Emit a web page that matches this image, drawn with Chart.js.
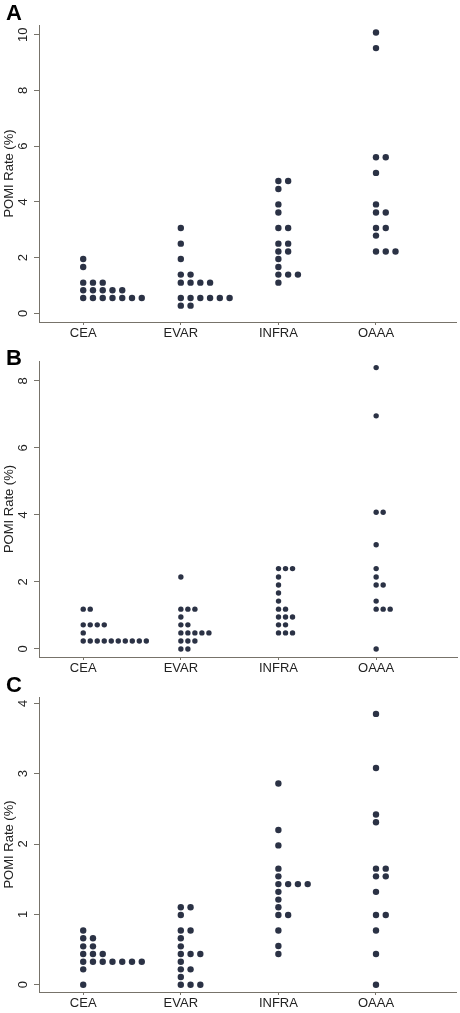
<!DOCTYPE html>
<html><head><meta charset="utf-8">
<script src="https://cdn.jsdelivr.net/npm/chart.js@4.4.1/dist/chart.umd.min.js"></script>
<style>
html,body{margin:0;padding:0;background:#fff;width:460px;height:1013px;overflow:hidden;position:relative;}
canvas{position:absolute;left:0;}
.lbl{position:absolute;left:6px;font:bold 22px "Liberation Sans",Arial,sans-serif;line-height:22px;color:#000;z-index:2;}
</style></head><body>
<canvas id="cA" width="460" height="345" style="top:0px"></canvas>
<canvas id="cB" width="460" height="345" style="top:335px"></canvas>
<canvas id="cC" width="460" height="342" style="top:671px"></canvas>
<div class="lbl" style="top:2px">A</div>
<div class="lbl" style="top:347px">B</div>
<div class="lbl" style="top:674px">C</div>
<script>
const categories = ['CEA', 'EVAR', 'INFRA', 'OAAA'];
const yTitle = 'POMI Rate (%)';
const yTicksA = [0, 2, 4, 6, 8, 10];
const yTicksB = [0, 2, 4, 6, 8];
const yTicksC = [0, 1, 2, 3, 4];

// Panel A values (one entry per dot)
const A_CEA   = [1.95, 1.66, 1.10, 1.10, 1.10, 0.83, 0.83, 0.83, 0.83, 0.83, 0.55, 0.55, 0.55, 0.55, 0.55, 0.55, 0.55];
const A_EVAR  = [3.06, 2.50, 1.95, 1.39, 1.39, 1.10, 1.10, 1.10, 1.10, 0.55, 0.55, 0.55, 0.55, 0.55, 0.55, 0.275, 0.275];
const A_INFRA = [4.75, 4.75, 4.46, 3.91, 3.62, 3.06, 3.06, 2.50, 2.50, 2.22, 2.22, 1.95, 1.66, 1.39, 1.39, 1.39, 1.10];
const A_OAAA  = [10.08, 9.52, 5.60, 5.60, 5.04, 3.91, 3.62, 3.62, 3.06, 3.06, 2.79, 2.22, 2.22, 2.22];

// Panel B values
const B_CEA   = [1.19, 1.19, 0.72, 0.72, 0.72, 0.72, 0.48, 0.24, 0.24, 0.24, 0.24, 0.24, 0.24, 0.24, 0.24, 0.24, 0.24];
const B_EVAR  = [2.15, 1.19, 1.19, 1.19, 0.955, 0.72, 0.72, 0.48, 0.48, 0.48, 0.48, 0.48, 0.24, 0.24, 0.24, 0, 0];
const B_INFRA = [2.40, 2.40, 2.40, 2.15, 1.91, 1.67, 1.43, 1.19, 1.19, 0.955, 0.955, 0.955, 0.72, 0.72, 0.48, 0.48, 0.48];
const B_OAAA  = [8.40, 6.96, 4.08, 4.08, 3.11, 2.40, 2.15, 1.91, 1.91, 1.43, 1.19, 1.19, 1.19, 0];

// Panel C values
const C_CEA   = [0.77, 0.66, 0.66, 0.545, 0.545, 0.436, 0.436, 0.436, 0.327, 0.327, 0.327, 0.327, 0.327, 0.327, 0.327, 0.218, 0];
const C_EVAR  = [1.10, 1.10, 0.99, 0.77, 0.77, 0.66, 0.545, 0.436, 0.436, 0.436, 0.327, 0.218, 0.218, 0.109, 0, 0, 0];
const C_INFRA = [2.86, 2.20, 1.98, 1.65, 1.54, 1.43, 1.43, 1.43, 1.43, 1.32, 1.21, 1.10, 0.99, 0.99, 0.77, 0.55, 0.436];
const C_OAAA  = [3.85, 3.08, 2.42, 2.31, 1.65, 1.65, 1.54, 1.54, 1.32, 0.99, 0.99, 0.77, 0.436, 0];

const DOT = '#2b3245';
const AXIS = '#77736a';
const TXT = '#222222';
const FONT = '"Liberation Sans", Arial, Helvetica, sans-serif';

function dotPoints(groups, step) {
  const pts = [];
  groups.forEach((vals, gi) => {
    const seen = {};
    vals.forEach(v => {
      const key = v.toFixed(4);
      const k = seen[key] || 0;
      seen[key] = k + 1;
      pts.push({ x: gi + 1 + k * step, y: v });
    });
  });
  return pts;
}

function makePanel(id, groups, yTicks, cfg) {
  new Chart(document.getElementById(id), {
    type: 'scatter',
    data: {
      datasets: [{
        data: dotPoints(groups, cfg.step),
        backgroundColor: DOT,
        borderWidth: 0,
        pointRadius: cfg.radius,
        pointHoverRadius: cfg.radius,
        pointBorderWidth: 0,
        clip: false
      }]
    },
    options: {
      responsive: false,
      animation: false,
      devicePixelRatio: 1,
      layout: { padding: { top: cfg.padTop, right: 3, left: 0, bottom: 0 } },
      plugins: { legend: { display: false }, tooltip: { enabled: false } },
      events: [],
      scales: {
        x: {
          type: 'linear',
          min: 0.547, max: 4.828,
          afterBuildTicks: s => { s.ticks = categories.map((c, i) => ({ value: i + 1 })); },
          afterFit: s => { s.height = cfg.xAxisH; },
          ticks: {
            callback: v => categories[Math.round(v) - 1],
            font: { family: FONT, size: 13 },
            color: TXT,
            padding: 1,
            maxRotation: 0, minRotation: 0, autoSkip: false
          },
          grid: { drawOnChartArea: false, drawTicks: true, tickLength: 3, color: AXIS, lineWidth: 1 },
          border: { display: true, color: AXIS, width: 1 }
        },
        y: {
          type: 'linear',
          min: cfg.yMin, max: cfg.yMax,
          afterBuildTicks: s => { s.ticks = yTicks.map(v => ({ value: v })); },
          afterFit: s => { s.width = 39; },
          ticks: {
            callback: v => String(v),
            font: { family: FONT, size: 13 },
            color: TXT,
            minRotation: 90, maxRotation: 90,
            crossAlign: 'center',
            padding: cfg.tickPad
          },
          grid: { drawOnChartArea: false, drawTicks: true, tickLength: 5, color: AXIS, lineWidth: 1 },
          border: { display: true, color: AXIS, width: 1 },
          title: {
            display: true, text: yTitle, color: TXT,
            font: { family: FONT, size: 13 },
            padding: { top: 2, bottom: 0 }
          }
        }
      }
    }
  });
}

makePanel('cA', [A_CEA, A_EVAR, A_INFRA, A_OAAA], yTicksA,
  { step: 0.1, radius: 3.2, padTop: 25, xAxisH: 23, yMin: -0.312, yMax: 10.35, tickPad: 3 });
makePanel('cB', [B_CEA, B_EVAR, B_INFRA, B_OAAA], yTicksB,
  { step: 0.0718, radius: 2.7, padTop: 26, xAxisH: 23, yMin: -0.239, yMax: 8.597, tickPad: 6.7 });
makePanel('cC', [C_CEA, C_EVAR, C_INFRA, C_OAAA], yTicksC,
  { step: 0.1, radius: 3.2, padTop: 26, xAxisH: 21, yMin: -0.104, yMax: 4.09, tickPad: 6.7 });
</script>
</body></html>
